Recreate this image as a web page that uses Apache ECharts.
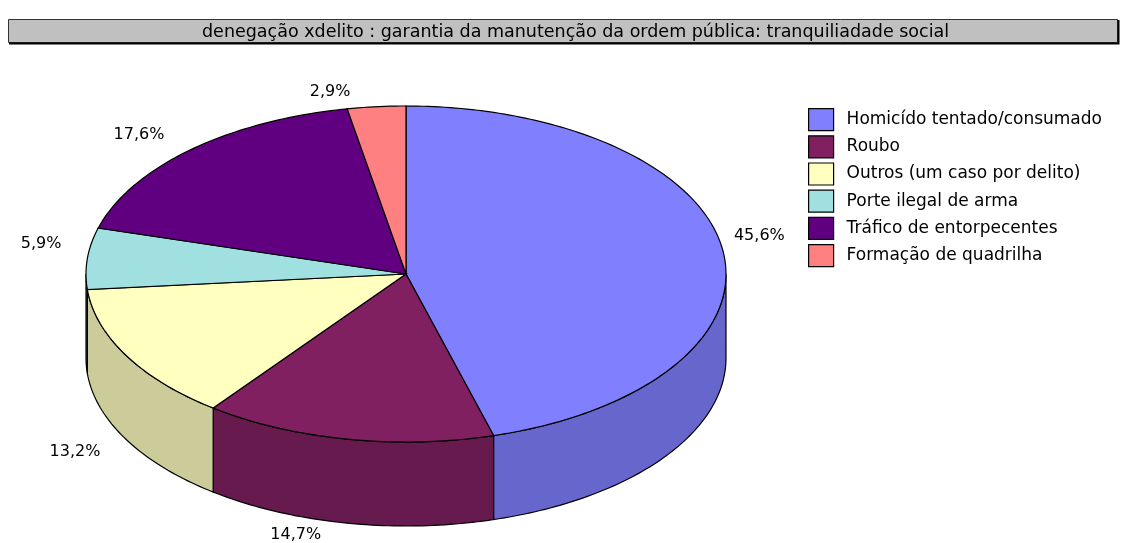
<!DOCTYPE html>
<html>
<head>
<meta charset="utf-8">
<script src="https://cdn.jsdelivr.net/npm/echarts@6/dist/echarts.min.js"></script>
<style>
html, body { margin: 0; padding: 0; background: #fff; }
#chart { width: 1125px; height: 543px; }
</style>
</head>
<body>
<div id="chart"></div>
<script>
// dados
var categorias = ['Homicído tentado/consumado', 'Roubo', 'Outros (um caso por delito)', 'Porte ilegal de arma', 'Tráfico de entorpecentes', 'Formação de quadrilha']
var casos = [31, 10, 9, 4, 12, 2]
var cores = ['#8080FF', '#802060', '#FFFFC0', '#A0E0E0', '#600080', '#FF8080']
var titulo = 'denegação xdelito : garantia da manutenção da ordem pública: tranquiliadade social'

// geometria da pizza "3d" (elipse + espessura)
var pie = { cx: 406, cy: 274, rx: 320, ry: 168, depth: 84 }
var fonte = '"DejaVu Sans", Arial, sans-serif'

var total = casos.reduce(function (a, b) { return a + b }, 0)
var inicio = []
casos.reduce(function (acc, v, i) { inicio[i] = acc; return acc + v }, 0)

function ponto (ang, dy) {
    var r = ang * Math.PI / 180
    return [pie.cx + pie.rx * Math.sin(r), pie.cy - pie.ry * Math.cos(r) + (dy || 0)]
}
function arco (a0, a1, dy) {
    var pts = []
    var n = Math.max(2, Math.ceil(a1 - a0))
    for (var k = 0; k <= n; k++) {
        pts.push(ponto(a0 + (a1 - a0) * k / n, dy))
    }
    return pts
}
function escurecer (hex) {
    var c = parseInt(hex.slice(1), 16)
    var r = Math.round(((c >> 16) & 255) * 0.8)
    var g = Math.round(((c >> 8) & 255) * 0.8)
    var b = Math.round((c & 255) * 0.8)
    return 'rgb(' + r + ',' + g + ',' + b + ')'
}

function renderFatia (i) {
    return function (params, api) {
        var a0 = inicio[i] / total * 360
        var a1 = (inicio[i] + api.value(0)) / total * 360
        var filhos = []
        // lateral visivel (metade da frente)
        var s = Math.max(a0, 90)
        var e = Math.min(a1, 270)
        if (e > s) {
            var topo = arco(s, e, 0)
            var base = arco(s, e, pie.depth).reverse()
            filhos.push({
                type: 'polygon',
                shape: { points: topo.concat(base) },
                style: { fill: escurecer(cores[i]), stroke: '#000', lineWidth: 1.2 }
            })
        }
        // face de cima
        filhos.push({
            type: 'polygon',
            shape: { points: [[pie.cx, pie.cy]].concat(arco(a0, a1, 0)) },
            style: { fill: cores[i], stroke: '#000', lineWidth: 1.2 }
        })
        // rotulo
        var meio = (a0 + a1) / 2
        var rad = meio * Math.PI / 180
        var frente = Math.cos(rad) < 0
        var anc = ponto(meio, frente ? pie.depth : 0)
        var esq = Math.sin(rad) < 0
        var pct = (api.value(0) / total * 100).toFixed(1).replace('.', ',') + '%'
        filhos.push({
            type: 'text',
            x: anc[0] + (esq ? -26 : 11),
            y: anc[1] + (frente ? 12 : -15),
            style: {
                text: pct,
                align: esq ? 'right' : 'left',
                verticalAlign: 'middle',
                font: '16px ' + fonte,
                fill: '#000'
            }
        })
        return { type: 'group', children: filhos }
    }
}

var chart = echarts.init(document.getElementById('chart'))

var series = categorias.map(function (nome, i) {
    return {
        name: nome,
        type: 'custom',
        coordinateSystem: 'none',
        itemStyle: { color: cores[i] },
        data: [[casos[i]]],
        renderItem: renderFatia(i)
    }
})

var option = {
    animation: false,
    title: {
        text: titulo,
        left: 202,
        top: 23,
        padding: 0,
        textStyle: { fontSize: 17.5, fontWeight: 'normal', color: '#000', fontFamily: fonte }
    },
    graphic: [
        {
            type: 'rect',
            z: -1,
            shape: { x: 8.5, y: 19.5, width: 1109, height: 23 },
            style: { fill: '#C0C0C0', stroke: '#333', lineWidth: 1 }
        },
        {
            type: 'polyline',
            z: -1,
            shape: { points: [[9, 43.5], [1118.5, 43.5], [1118.5, 20]] },
            style: { stroke: '#000', lineWidth: 2, fill: null }
        }
    ],
    legend: {
        data: categorias,
        orient: 'vertical',
        left: 808,
        top: 108,
        padding: 0,
        icon: 'rect',
        itemWidth: 25,
        itemHeight: 22,
        itemGap: 4,
        selectedMode: false,
        itemStyle: { borderColor: '#000', borderWidth: 1.2 },
        textStyle: { fontSize: 17, lineHeight: 22, color: '#000', fontFamily: fonte, padding: [0, 0, 0, 8] }
    },
    series: series
}
chart.setOption(option)
</script>
</body>
</html>
